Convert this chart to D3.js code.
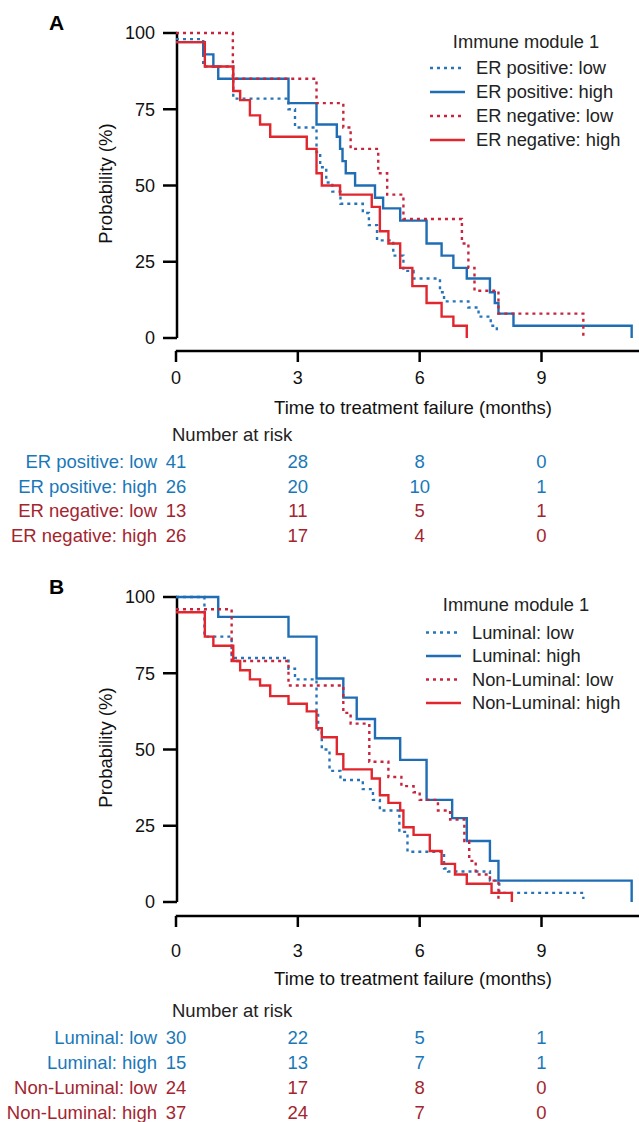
<!DOCTYPE html>
<html>
<head>
<meta charset="utf-8">
<script src="https://cdn.jsdelivr.net/npm/d3@7"></script>
<style>
  body { margin: 0; background: #fff; }
  text { font-family: "Liberation Sans", Arial, sans-serif; }
</style>
</head>
<body>
<script>
// ---- data (months, survival %) ----
var xTicks = [0, 3, 6, 9];
var yTicks = [0, 25, 50, 75, 100];

var erPosLow = [[0,98],[0.67,89],[1.41,78.5],[2.77,75],[2.93,69],[3.46,61],[3.55,56],[3.7,51],[3.85,48],[4.05,44],[4.6,41],[4.75,37],[4.95,32],[5.35,27],[5.6,22],[5.85,19.5],[6.5,15],[6.6,12],[7.2,10],[7.45,7],[7.75,4],[7.9,2],[7.95,2]];
var erPosHigh = [[0,97],[0.67,93],[0.92,89],[1.04,85],[2.77,77],[3.46,70],[3.96,66],[4.04,62],[4.1,58],[4.18,54],[4.41,50],[4.9,46],[5.1,42.5],[5.52,38.5],[6.17,31],[6.54,27],[6.83,23],[7.16,19.5],[7.73,15],[7.85,11.5],[7.94,8],[8.31,4],[11.22,0]];
var erNegLow = [[0,100],[1.4,85],[3.46,77],[4.12,69],[4.3,62],[4.98,54],[5.2,47],[5.6,39],[7.04,31],[7.2,23],[7.35,15.5],[7.94,8],[10.03,0]];
var erNegHigh = [[0,97],[0.71,89],[1.41,81],[1.58,78],[1.82,73],[2.07,70],[2.32,66],[3.22,62],[3.46,54],[3.59,50],[4.04,47],[4.82,43],[5.02,35],[5.23,31],[5.52,23],[5.82,17],[6.17,11.5],[6.54,7],[6.83,4],[7.16,0]];

var lumLow = [[0,100],[0.7,87],[1.37,80],[2.77,76.5],[2.93,73],[3.46,62],[3.5,56],[3.59,50],[3.78,43],[4.05,40],[4.6,37],[4.85,33.5],[5.02,30],[5.5,23],[5.7,16.5],[6.6,11],[6.7,10],[7.73,7],[7.96,3],[10.03,1]];
var lumHigh = [[0,100],[1.04,93.5],[2.77,87],[3.46,73.3],[4.12,67],[4.45,60],[4.9,53.7],[5.52,46.6],[6.17,33.5],[6.8,27.5],[7.16,20],[7.73,13.5],[7.94,7],[11.22,0]];
var nonLumLow = [[0,96],[1.37,79],[2.77,71],[4.12,62],[4.3,58.5],[4.76,46],[5.23,41],[5.55,38],[5.85,36],[6.0,33.5],[6.45,30],[6.75,27],[7.1,20],[7.22,13.5],[7.38,9],[7.73,7],[7.94,0]];
var nonLumHigh = [[0,95],[0.71,87],[0.92,84],[1.41,79],[1.58,76],[1.82,73],[2.07,71],[2.32,67.5],[2.77,65],[3.22,62.5],[3.46,57],[3.59,54],[3.96,48.5],[4.12,43.5],[4.82,40.5],[5.02,35],[5.23,32.5],[5.52,30],[5.6,24.5],[5.85,22],[6.25,16.7],[6.54,12.5],[6.87,9],[7.16,6],[7.77,3],[8.27,0]];

var namesA = ["ER positive: low", "ER positive: high", "ER negative: low", "ER negative: high"];
var namesB = ["Luminal: low", "Luminal: high", "Non-Luminal: low", "Non-Luminal: high"];
var riskA = [[41,28,8,0],[26,20,10,1],[13,11,5,1],[26,17,4,0]];
var riskB = [[30,22,5,1],[15,13,7,1],[24,17,8,0],[37,24,7,0]];

// ---- styles ----
var lineCol = ["#2775b8", "#1f6db5", "#c8243c", "#e2262d"];
var dash = ["3,4", null, "3,4", null];
var riskCol = ["#1a78b8", "#1a78b8", "#a3252f", "#a3252f"];

var svg = d3.select("body").append("svg").attr("width", 639).attr("height", 1122);
var x = d3.scaleLinear().domain([0, 9]).range([176, 541.5]);

function label(g, xx, yy, txt, size, anchor, fill) {
  return g.append("text").attr("x", xx).attr("y", yy).attr("dy", "0.35em")
    .attr("text-anchor", anchor || "start").attr("font-size", size)
    .attr("fill", fill || "#111").text(txt);
}

function panel(letter, top, series, names, risk, lay) {
  var g = svg.append("g");
  var y = d3.scaleLinear().domain([0, 100]).range([top + 305, top]);

  g.append("text").attr("x", 49).attr("y", top - 3).attr("font-size", 21).attr("font-weight", "bold").text(letter);

  // y axis
  g.append("line").attr("x1", 177).attr("x2", 177).attr("y1", y(100)).attr("y2", y(0))
    .attr("stroke", "#000").attr("stroke-width", 2.5);
  yTicks.forEach(function(v) {
    g.append("line").attr("x1", 163).attr("x2", 177).attr("y1", y(v)).attr("y2", y(v))
      .attr("stroke", "#000").attr("stroke-width", 2.5);
    label(g, 155, y(v), v, 18, "end");
  });
  g.append("text").attr("transform", "translate(112," + (y(50) - 2) + ") rotate(-90)")
    .attr("text-anchor", "middle").attr("font-size", 18.5).attr("fill", "#111").text("Probability (%)");

  // x axis
  var ax = lay.axis;
  g.append("line").attr("x1", 175.8).attr("x2", 639).attr("y1", ax).attr("y2", ax)
    .attr("stroke", "#000").attr("stroke-width", 2.5);
  xTicks.forEach(function(v) {
    g.append("line").attr("x1", x(v)).attr("x2", x(v)).attr("y1", ax).attr("y2", ax + 11)
      .attr("stroke", "#000").attr("stroke-width", 2.5);
    label(g, x(v), lay.tick, v, 18, "middle");
  });
  label(g, 413, lay.title, "Time to treatment failure (months)", 18.5, "middle");

  // curves
  var line = d3.line().x(function(d) { return x(d[0]); }).y(function(d) { return y(d[1]); })
    .curve(d3.curveStepAfter);
  series.forEach(function(s, i) {
    g.append("path").attr("d", line(s)).attr("fill", "none").attr("stroke", lineCol[i])
      .attr("stroke-width", 2.4).attr("stroke-dasharray", dash[i]);
  });

  // legend
  label(g, lay.lt, lay.ly, "Immune module 1", 18.3, "middle", "#222");
  names.forEach(function(n, i) {
    var yy = lay.le + i * lay.ls;
    g.append("line").attr("x1", lay.lx).attr("x2", lay.lx + 35).attr("y1", yy).attr("y2", yy)
      .attr("stroke", lineCol[i]).attr("stroke-width", 2.4).attr("stroke-dasharray", dash[i]);
    label(g, lay.lx + 46, yy, n, 18.3, "start", "#222");
  });

  // number at risk
  label(g, 172, lay.nar, "Number at risk", 18.5, "start", "#222");
  risk.forEach(function(row, i) {
    var yy = lay.row + i * lay.rs;
    label(g, 157, yy, names[i], 18.5, "end", riskCol[i]);
    row.forEach(function(v, j) {
      label(g, x(xTicks[j]), yy, v, 18.5, "middle", riskCol[i]);
    });
  });
}

panel("A", 33, [erPosLow, erPosHigh, erNegLow, erNegHigh], namesA, riskA,
  { axis: 351, tick: 378, title: 408, nar: 435, row: 461.7, rs: 24.5,
    lx: 430, lt: 526, ly: 42, le: 68, ls: 24 });
panel("B", 597, [lumLow, lumHigh, nonLumLow, nonLumHigh], namesB, riskB,
  { axis: 916, tick: 951, title: 979, nar: 1010.5, row: 1038, rs: 25,
    lx: 426, lt: 516, ly: 605, le: 632.5, ls: 23.5 });
</script>
</body>
</html>
